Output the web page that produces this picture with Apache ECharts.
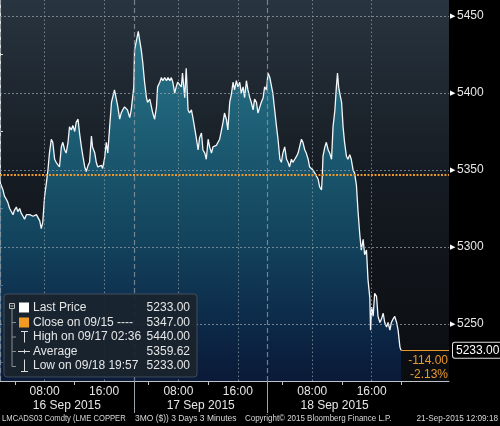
<!DOCTYPE html>
<html><head><meta charset="utf-8">
<script src="https://cdn.jsdelivr.net/npm/echarts@6/dist/echarts.min.js"></script>
<style>html,body{margin:0;padding:0;background:#000;}#c{width:500px;height:426px;}</style>
</head><body><div id="c"></div>
<script>
// ---- data ----
const days = ['16 Sep 2015', '17 Sep 2015', '18 Sep 2015'];
const t16 = ["02:00","02:24","02:36","02:51","03:03","03:18","03:30","03:45","03:57","04:12","04:24","04:39","04:51","05:06","05:18","05:33","05:45","06:00","06:12","06:27","06:39","06:54","07:06","07:21","07:33","07:45","08:00","08:15","08:27","08:39","08:54","09:06","09:21","09:33","09:48","10:00","10:15","10:27","10:42","10:54","11:09","11:21","11:36","11:48","12:03","12:15","12:30","12:42","12:57","13:09","13:24","13:36","13:51","14:03","14:18","14:27","14:45","14:57","15:09","15:24","15:39","15:48","16:03","16:18","16:30","16:45","17:00","17:09","17:24","17:39","17:51","18:06","18:18","18:30","18:45","19:00","19:09","19:27","19:39","19:51"];
const v16 = [5342,5337,5333,5331,5329,5325,5324,5321,5324,5326,5323,5325,5322,5320,5318,5321,5320,5321,5320,5320,5320,5321,5320,5317,5312,5316,5333,5342,5350,5361,5370,5368,5357,5355,5355,5352,5365,5368,5363,5361,5368,5378,5376,5379,5375,5381,5383,5374,5365,5359,5352,5349,5353,5355,5372,5365,5361,5355,5352,5352,5353,5351,5357,5368,5361,5378,5394,5397,5402,5396,5391,5383,5387,5389,5391,5392,5389,5384,5389,5390];
const t17 = ["02:00","02:06","02:21","02:36","02:48","03:00","03:12","03:27","03:42","03:51","04:09","04:21","04:33","04:48","05:03","05:12","05:30","05:42","05:54","06:09","06:24","06:36","06:51","07:03","07:15","07:30","07:42","07:54","08:09","08:24","08:33","08:51","09:03","09:18","09:30","09:45","09:57","10:12","10:24","10:39","10:51","11:06","11:18","11:33","11:45","12:00","12:12","12:27","12:39","12:54","13:06","13:21","13:33","13:48","14:00","14:12","14:27","14:39","14:54","15:09","15:21","15:33","15:48","16:00","16:15","16:27","16:42","16:54","17:09","17:21","17:36","17:48","18:03","18:15","18:30","18:42","18:57","19:09","19:24","19:36","19:51"];
const v17 = [5404,5428,5434,5440,5434,5428,5420,5407,5397,5394,5396,5396,5387,5383,5391,5404,5407,5410,5408,5410,5408,5410,5408,5410,5407,5400,5404,5407,5408,5404,5413,5397,5416,5389,5387,5389,5384,5383,5371,5363,5371,5374,5363,5361,5357,5370,5365,5361,5365,5364,5366,5365,5370,5371,5381,5387,5383,5376,5394,5400,5407,5402,5408,5404,5407,5400,5404,5397,5408,5402,5397,5394,5389,5396,5394,5387,5391,5394,5397,5404,5402];
const t18 = ["02:03","02:18","02:42","02:57","03:12","03:24","03:39","03:51","04:03","04:18","04:33","04:45","04:57","05:12","05:24","05:39","05:54","06:06","06:18","06:33","06:45","07:00","07:12","07:27","07:39","07:54","08:06","08:21","08:33","08:48","09:00","09:15","09:21","09:27","09:42","09:54","10:09","10:21","10:36","10:48","11:03","11:15","11:24","11:33","11:42","11:57","12:09","12:21","12:36","12:48","13:03","13:15","13:30","13:42","13:57","14:09","14:24","14:36","14:51","15:03","15:18","15:30","15:45","15:51","16:00","16:12","16:24","16:39","16:51","17:06","17:18","17:33","17:45","18:00","18:12","18:27","18:39","18:51","19:06","19:21","19:33","19:48","19:57"];
const v18 = [5413,5410,5400,5389,5378,5370,5357,5355,5361,5365,5357,5355,5352,5357,5355,5357,5359,5361,5365,5370,5368,5363,5361,5357,5352,5353,5350,5348,5347,5344,5339,5337,5346,5359,5365,5368,5363,5361,5357,5378,5389,5404,5413,5404,5400,5394,5378,5368,5359,5357,5360,5357,5350,5348,5340,5324,5308,5298,5305,5295,5298,5279,5267,5246,5261,5255,5270,5268,5255,5251,5253,5257,5251,5248,5251,5246,5251,5253,5255,5251,5246,5235,5233];

const yLabelValues = [5250, 5300, 5350, 5400, 5450];
const yMinorValues = [5225, 5275, 5325, 5375, 5425];
const xLabelTimes = ['08:00', '16:00'];
const xMinorTimes = ['04:00', '12:00', '20:00'];

const lastPrice = 5233.00, prevClose = 5347.00, highPrice = 5440.00, avgPrice = 5359.62, lowPrice = 5233.00;
const closeDate = '09/15', highTime = '09/17 02:36', lowTime = '09/18 19:57';
const netChange = '-114.00', pctChange = '-2.13%';
const footer = ['LMCADS03 Comdty (LME COPPER', '3MO ($)) 3 Days 3 Minutes', 'Copyright\u00A9 2015 Bloomberg Finance L.P.', '21-Sep-2015 12:09:18'];

// ---- compressed trading-session time axis (02:00 - 20:00 each day) ----
const SESSION_START = 2, SESSION_LEN = 18, X_MAX = 60.4, Y_MIN = 5213, Y_MAX = 5460.4;
function toT(d, hhmm) { const p = hhmm.split(':').map(Number); return d * SESSION_LEN + p[0] + p[1] / 60 - SESSION_START; }
const dayTimes = [t16, t17, t18], dayVals = [v16, v17, v18];
const seriesData = [];
dayTimes.forEach((ts, d) => ts.forEach((s, i) => seriesData.push([toT(d, s), dayVals[d][i]])));
const lastT = seriesData[seriesData.length - 1][0];

const xLabelVals = [], xMinorVals = [], dateVals = [], sepVals = [];
for (let d = 0; d < 3; d++) {
  xLabelTimes.forEach(s => xLabelVals.push(toT(d, s)));
  xMinorTimes.forEach(s => xMinorVals.push(toT(d, s)));
  dateVals.push(toT(d, '11:00'));
  if (d < 2) sepVals.push(toT(d, '20:00'));
}
function clock(t) {
  const h = Math.round(((t % SESSION_LEN) + SESSION_START) * 60);
  const hh = Math.floor(h / 60), mm = h % 60;
  return String(hh).padStart(2, '0') + ':' + String(mm).padStart(2, '0');
}

const FONT = '"Liberation Sans", Arial, sans-serif';
const gridCol = 'rgba(150,160,168,0.75)';
const orange = '#e8982c';

const markData = [];
[0].concat(sepVals).forEach(v => markData.push({ xAxis: v, lineStyle: { color: 'rgba(140,150,160,0.8)', type: [5, 3], width: 1.2 } }));
xLabelVals.forEach(v => markData.push({ xAxis: v, lineStyle: { color: gridCol, type: [1.5, 2.5], width: 1 } }));
yLabelValues.forEach(v => markData.push({ yAxis: v, lineStyle: { color: gridCol, type: [2, 2], width: 1 } }));
markData.push({ yAxis: prevClose, lineStyle: { color: orange, type: [2, 1.5], width: 2 } });
markData.push([
  { coord: [lastT, lastPrice], lineStyle: { color: orange, type: 'solid', width: 1 },
    label: { show: true, position: 'end', distance: 4, formatter: lastPrice.toFixed(2), color: '#fff', fontSize: 12, fontFamily: FONT,
      backgroundColor: '#000', borderColor: '#e0e0e0', borderWidth: 1, borderRadius: 2, padding: [2, 2, 1, 3] } },
  { coord: [X_MAX, lastPrice] }
]);

const chart = echarts.init(document.getElementById('c'), null, { renderer: 'canvas' });

const lg = { x: 4, y: 294 };
const rowsY = [308, 322.5, 337, 351.5, 366];
const legendTexts = ['Last Price', 'Close on ' + closeDate + ' ----', 'High on ' + highTime, 'Average', 'Low on ' + lowTime];
const legendVals = [lastPrice, prevClose, highPrice, avgPrice, lowPrice].map(v => v.toFixed(2));
const txtStyle = { fill: '#e6e6e6', font: '12px ' + FONT, textVerticalAlign: 'middle' };

const graphics = [
  { type: 'rect', shape: { x: lg.x, y: lg.y, width: 193, height: 83, r: 3 }, style: { fill: 'rgba(26,35,45,0.93)', stroke: 'rgba(95,105,115,0.6)', lineWidth: 1 }, z: 100 },
  { type: 'rect', shape: { x: 9.5, y: 303.5, width: 5, height: 5 }, style: { fill: 'none', stroke: '#bbb', lineWidth: 1 }, z: 101 },
  { type: 'line', shape: { x1: 10.5, y1: 306, x2: 13.5, y2: 306 }, style: { stroke: '#bbb', lineWidth: 1 }, z: 101 },
  { type: 'line', shape: { x1: 12, y1: 309, x2: 12, y2: 366.5 }, style: { stroke: '#8a8f95', lineWidth: 1 }, z: 101 },
  { type: 'rect', shape: { x: 19, y: 302.5, width: 10, height: 10 }, style: { fill: '#fff' }, z: 101 },
  { type: 'rect', shape: { x: 19, y: 317.5, width: 10, height: 10 }, style: { fill: '#f19a22' }, z: 101 },
  { type: 'line', shape: { x1: 21, y1: 331.5, x2: 28, y2: 331.5 }, style: { stroke: '#ddd', lineWidth: 1 }, z: 101 },
  { type: 'line', shape: { x1: 24.5, y1: 331.5, x2: 24.5, y2: 342.5 }, style: { stroke: '#ddd', lineWidth: 1 }, z: 101 },
  { type: 'line', shape: { x1: 18, y1: 351.5, x2: 30, y2: 351.5 }, style: { stroke: '#ddd', lineWidth: 1 }, z: 101 },
  { type: 'line', shape: { x1: 24.5, y1: 349.5, x2: 24.5, y2: 353.5 }, style: { stroke: '#ddd', lineWidth: 1 }, z: 101 },
  { type: 'line', shape: { x1: 24.5, y1: 359.5, x2: 24.5, y2: 371.5 }, style: { stroke: '#ddd', lineWidth: 1 }, z: 101 },
  { type: 'line', shape: { x1: 21, y1: 371.5, x2: 28, y2: 371.5 }, style: { stroke: '#ddd', lineWidth: 1 }, z: 101 }
];
[322.5, 337, 351.5, 366.5].forEach(y => graphics.push({ type: 'line', shape: { x1: 12, y1: y, x2: 16, y2: y }, style: { stroke: '#8a8f95', lineWidth: 1 }, z: 101 }));
legendTexts.forEach((s, i) => graphics.push({ type: 'text', x: 33, y: rowsY[i], style: Object.assign({ text: s }, txtStyle), z: 102 }));
legendVals.forEach((s, i) => graphics.push({ type: 'text', x: 190, y: rowsY[i], style: Object.assign({ text: s, textAlign: 'right' }, txtStyle), z: 102 }));
const footX = [2, 135, 245, 498];
const footScale = [0.85, 0.94, 0.885, 0.91];
footer.forEach((s, i) => graphics.push({ type: 'text', x: footX[i], y: 419, scaleX: footScale[i],
  style: { text: s, fill: '#d8d8d8', font: '9px ' + FONT, textVerticalAlign: 'middle', textAlign: i === 3 ? 'right' : 'left' }, z: 102 }));

chart.setOption({
  backgroundColor: '#000',
  animation: false,
  grid: { left: 0, right: 51, top: 0, bottom: 45, show: true, borderWidth: 0,
    backgroundColor: new echarts.graphic.LinearGradient(0, 0, 0, 1, [
      { offset: 0, color: '#28343f' }, { offset: 0.45, color: '#161c23' }, { offset: 1, color: '#0a0c10' }]) },
  xAxis: [
    { type: 'value', min: 0, max: X_MAX, position: 'bottom',
      axisLine: { show: true, lineStyle: { color: '#bfc3c7', width: 1 } },
      axisTick: { show: true, customValues: xMinorVals, length: 4, lineStyle: { color: '#bfc3c7' } },
      axisLabel: { customValues: xLabelVals, formatter: v => clock(v), color: '#e6e6e6', fontSize: 12, fontFamily: FONT, margin: 5 },
      splitLine: { show: false } },
    { type: 'value', min: 0, max: X_MAX, position: 'bottom', gridIndex: 0,
      axisLine: { show: false },
      axisTick: { show: true, customValues: sepVals, length: 32, lineStyle: { color: '#9aa1a8', width: 1 } },
      axisLabel: { customValues: dateVals, formatter: v => days[Math.floor(v / SESSION_LEN)], color: '#e6e6e6', fontSize: 12, fontFamily: FONT, margin: 19 },
      splitLine: { show: false } }
  ],
  yAxis: {
    type: 'value', position: 'right', min: Y_MIN, max: Y_MAX,
    axisLine: { show: true, lineStyle: { color: '#e0e0e0', width: 1 } },
    axisTick: { show: true, customValues: yMinorValues, length: 3, lineStyle: { color: '#e0e0e0' } },
    axisLabel: { customValues: yLabelValues, margin: 1, formatter: v => '{t|\u25B6}{v|' + v + '}',
      rich: { t: { fontSize: 7, color: '#fff', padding: [0, 2, 0, 0] }, v: { fontSize: 12, color: '#e6e6e6', fontFamily: FONT } } },
    splitLine: { show: false }
  },
  series: [{
    type: 'line', data: seriesData, showSymbol: false, symbol: 'none', clip: true,
    lineStyle: { color: '#f4f6f8', width: 1.3 },
    areaStyle: { origin: 'start', color: new echarts.graphic.LinearGradient(0, 0, 0, 1, [
      { offset: 0, color: '#2b93ab' }, { offset: 0.2, color: '#21809c' }, { offset: 0.42, color: '#196a88' },
      { offset: 0.62, color: '#125376' }, { offset: 0.82, color: '#0c3660' }, { offset: 1, color: '#0a1f48' }]) },
    markLine: { silent: true, symbol: ['none', 'none'], animation: false, label: { show: false }, data: markData },
    markPoint: { silent: true, animation: false, symbol: 'rect', symbolSize: 0,
      data: [{ coord: [X_MAX, lastPrice],
        label: { show: true, position: [-1, 3], align: 'right', verticalAlign: 'top', formatter: netChange + '\n' + pctChange,
          color: orange, fontSize: 12, lineHeight: 14, fontFamily: FONT } }] }
  }],
  graphic: graphics
});
</script></body></html>
